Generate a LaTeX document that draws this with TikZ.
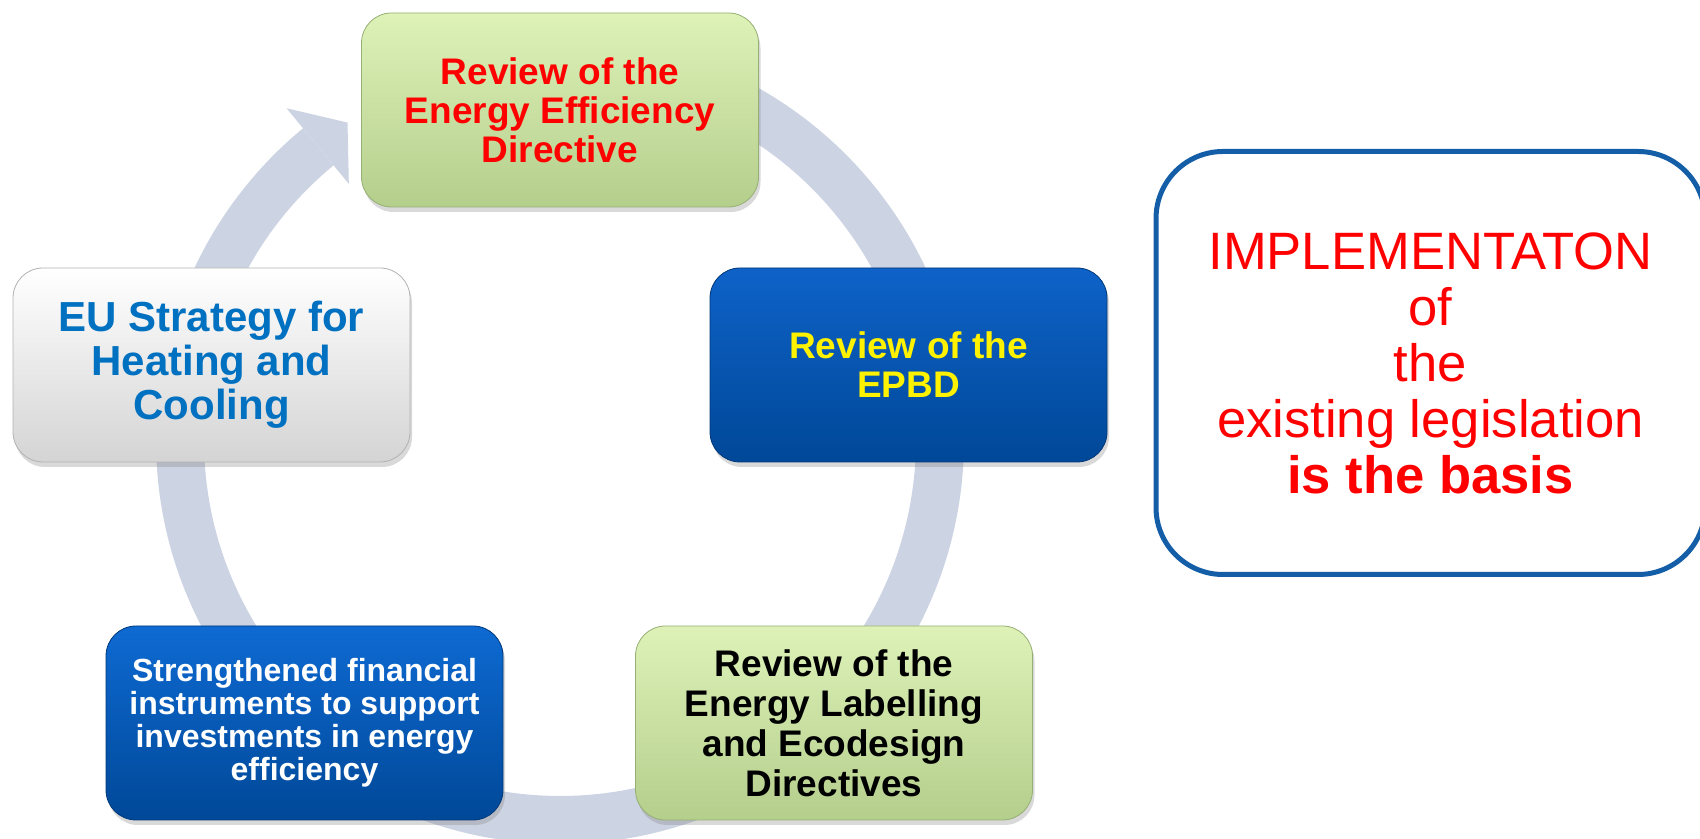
\documentclass[tikz,border=0pt]{standalone}
\usepackage{fontspec}
\setmainfont{Liberation Sans}
\usepackage{xcolor}
\usetikzlibrary{calc}
\usetikzlibrary{shadows}

\definecolor{ringgray}{RGB}{204,211,226}
\definecolor{greentop}{RGB}{222,242,184}
\definecolor{greenbot}{RGB}{180,206,140}
\definecolor{greenedge}{RGB}{150,175,115}
\definecolor{bluetop}{RGB}{14,98,200}
\definecolor{bluebot}{RGB}{0,72,152}
\definecolor{blueedge}{RGB}{0,55,120}
\definecolor{greybot}{RGB}{212,212,212}
\definecolor{greyedge}{RGB}{178,178,178}
\definecolor{eublue}{RGB}{0,112,192}
\definecolor{frameblue}{RGB}{20,94,168}

\tikzset{
    stagebox/.style={rounded corners=15pt, minimum width=198.5pt, minimum height=97pt, align=center, inner sep=2pt,
        drop shadow={shadow xshift=1pt, shadow yshift=-2.5pt, opacity=0.3}},
    greenbox/.style={stagebox, draw=greenedge, top color=greentop, bottom color=greenbot},
    bluebox/.style={stagebox, draw=blueedge, top color=bluetop, bottom color=bluebot},
    whitebox/.style={stagebox, draw=greyedge, top color=white, bottom color=greybot},
}

\begin{document}
\begin{tikzpicture}[x=0.5pt, y=0.5pt]
    \clip (0,0) rectangle (1700,839);

    % cycle ring behind the boxes
    \coordinate (hub) at (560,399);
    \fill[ringgray] ($(hub)+(90:202pt)$) arc[start angle=90, end angle=-230.5, radius=202pt]
        -- ($(hub)+(-230.5:178pt)$) arc[start angle=-230.5, end angle=90, radius=178pt] -- cycle;
    \fill[ringgray] ($(hub)+(129.5:215pt)$) -- ($(hub)+(123.8:191pt)$) -- ($(hub)+(129.5:166pt)$) -- cycle;

    \node[greenbox, font=\bfseries\fontsize{18.5}{19.5}\selectfont, text=red] (eed) at (560,729)
        {Review of the\\Energy Efficiency\\Directive};
    \node[bluebox, font=\bfseries\fontsize{18.5}{19.5}\selectfont, text=yellow] (epbd) at (908.5,474)
        {Review of the\\EPBD};
    \node[greenbox, font=\bfseries\fontsize{18.5}{20}\selectfont, text=black] (labelling) at (834,116)
        {Review of the\\Energy Labelling\\and Ecodesign\\Directives};
    \node[bluebox, top color={rgb,255:red,14;green,106;blue,210}, font=\bfseries\fontsize{16}{16.5}\selectfont, text=white] (finance) at (304.5,116)
        {Strengthened financial\\instruments to support\\investments in energy\\efficiency};
    \node[whitebox, font=\bfseries\fontsize{21}{22}\selectfont, text=eublue] (heating) at (211.5,474)
        {EU Strategy for\\Heating and\\Cooling};

    \node[draw=frameblue, line width=2.5pt, rounded corners=33.5pt, minimum width=274.5pt, minimum height=211.5pt,
        align=center, text=red, font=\fontsize{26.3}{28}\selectfont] (basis) at (1430.5,476)
        {IMPLEMENTATON\\of\\the\\existing legislation\\\textbf{is the basis}};
\end{tikzpicture}
\end{document}
